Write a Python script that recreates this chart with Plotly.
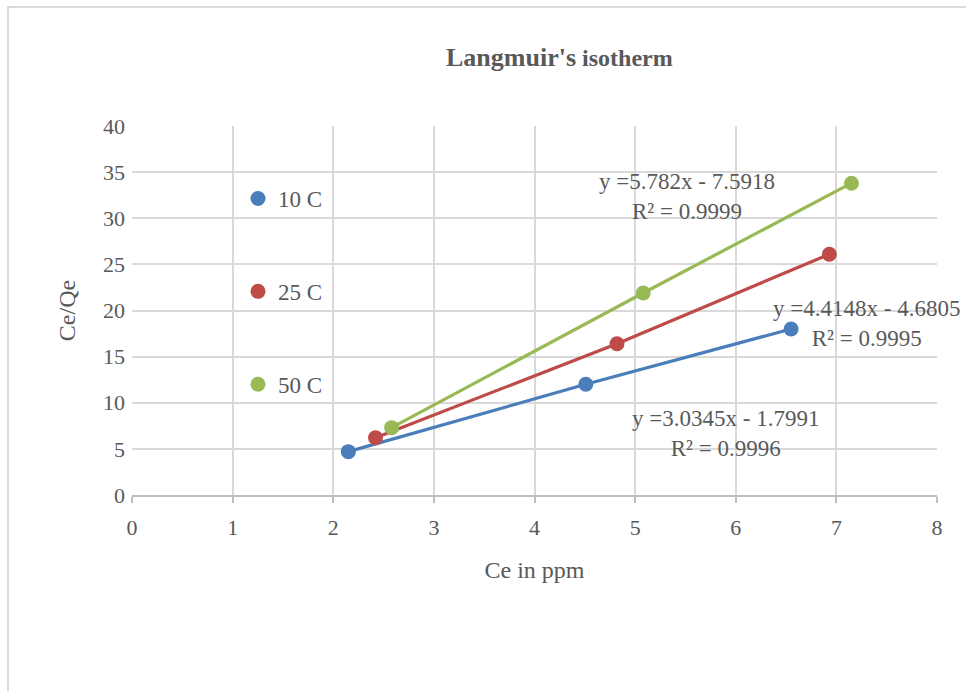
import plotly.graph_objects as go

series_names = ["10 C", "25 C", "50 C"]
ce_10 = [2.15, 4.51, 6.55]
cq_10 = [4.7, 12.0, 18.0]
ce_25 = [2.42, 4.82, 6.93]
cq_25 = [6.2, 16.4, 26.1]
ce_50 = [2.58, 5.08, 7.15]
cq_50 = [7.3, 21.9, 33.8]
colors = ["#4A7EBB", "#BE4B48", "#98B954"]

eq_texts = ["y =3.0345x - 1.7991<br>R² = 0.9996",
            "y =4.4148x - 4.6805<br>R² = 0.9995",
            "y =5.782x - 7.5918<br>R² = 0.9999"]
eq_pos = [(5.9, 6.7), (7.3, 18.6), (5.52, 32.4)]

xs = [ce_10, ce_25, ce_50]
ys = [cq_10, cq_25, cq_50]

W, H = 966, 691
L, R, T, B = 132, W - 937, 126, H - 495

fig = go.Figure()
for i in range(3):
    fig.add_trace(go.Scatter(x=xs[i], y=ys[i], mode="lines+markers",
                             line=dict(color=colors[i], width=3.2),
                             marker=dict(color=colors[i], size=15),
                             showlegend=False, hoverinfo="x+y"))
for i in range(3):
    fig.add_trace(go.Scatter(x=[None], y=[None], mode="markers", name=series_names[i],
                             marker=dict(color=colors[i], size=15),
                             legendgroup=f"g{i}", showlegend=True))

serif = "Liberation Serif, Times New Roman, serif"
grey = "#595959"
for i in range(3):
    fig.add_annotation(x=eq_pos[i][0], y=eq_pos[i][1], text=eq_texts[i], showarrow=False,
                       xanchor="center", yanchor="middle",
                       font=dict(family=serif, size=23, color=grey), align="center")

pw = W - L - R
ph = H - T - B
fig.add_annotation(xref="paper", yref="paper", x=(559 - L) / pw, y=1 + (T - 57) / ph,
                   xanchor="center", yanchor="middle",
                   text="<b><span style='font-size:26px'>Langmuir's</span> isotherm</b>", showarrow=False,
                   font=dict(family=serif, size=24, color=grey))

fig.add_shape(type="rect", xref="paper", yref="paper",
              x0=(8 - L) / pw, x1=(W + 20 - L) / pw, y0=-(B + 20) / ph, y1=1 + (T - 7) / ph,
              line=dict(color="#D0D0D0", width=1.5), fillcolor="rgba(0,0,0,0)", layer="below")

fig.update_layout(
    width=W, height=H,
    margin=dict(l=L, r=R, t=T, b=B),
    paper_bgcolor="white", plot_bgcolor="white",
    showlegend=True,
    legend=dict(x=(238 - L) / pw, y=(495 - 177) / ph, xanchor="left", yanchor="top",
                font=dict(family=serif, size=23, color=grey),
                bgcolor="rgba(0,0,0,0)", tracegroupgap=60, itemwidth=30),
    xaxis=dict(range=[0, 8], dtick=1, tick0=0, showgrid=True, gridcolor="#D9D9D9", gridwidth=1.5,
               showline=True, linecolor="#BFBFBF", linewidth=1.5, mirror=False,
               ticks="outside", ticklen=6, tickcolor="#BFBFBF", tickwidth=1.5,
               ticklabelstandoff=6, zeroline=False,
               tickfont=dict(family=serif, size=22, color=grey),
               title=dict(text="Ce in ppm", font=dict(family=serif, size=24, color=grey), standoff=22)),
    yaxis=dict(range=[0, 40], dtick=5, tick0=0, showgrid=True, gridcolor="#D9D9D9", gridwidth=1.5,
               showline=False, zeroline=False, ticks="", ticklabelstandoff=6,
               tickfont=dict(family=serif, size=22, color=grey),
               title=dict(text="Ce/Qe", font=dict(family=serif, size=24, color=grey), standoff=20)),
)
fig.write_html("out.html")
